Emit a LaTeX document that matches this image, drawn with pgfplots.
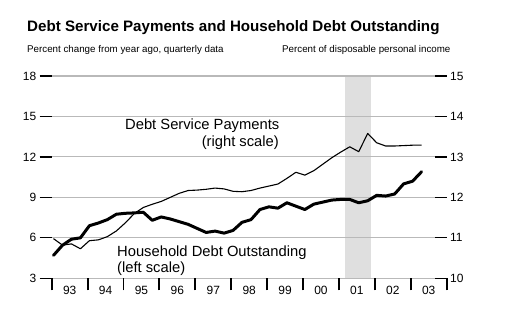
\documentclass[border=0pt]{standalone}
\usepackage{pgfplots}
\pgfplotsset{compat=1.18}
\usepackage{pgfplotstable}
\usepackage{fontspec}
\setmainfont{Liberation Sans}
\pgfplotsset{set layers}

\pgfplotstableread{
x y
1993.05 4.70
1993.30 5.45
1993.55 5.90
1993.80 6.00
1994.05 6.90
1994.30 7.10
1994.55 7.35
1994.80 7.75
1995.05 7.82
1995.30 7.85
1995.55 7.90
1995.80 7.30
1996.05 7.55
1996.30 7.40
1996.55 7.20
1996.80 7.00
1997.05 6.70
1997.30 6.40
1997.55 6.50
1997.80 6.35
1998.05 6.55
1998.30 7.15
1998.55 7.35
1998.80 8.10
1999.05 8.30
1999.30 8.20
1999.55 8.60
1999.80 8.35
2000.05 8.10
2000.30 8.50
2000.55 8.65
2000.80 8.80
2001.05 8.85
2001.30 8.85
2001.55 8.60
2001.80 8.75
2002.05 9.15
2002.30 9.10
2002.55 9.25
2002.80 10.00
2003.05 10.20
2003.30 10.90
}\household

\pgfplotstableread{
x y
1993.05 10.98
1993.30 10.82
1993.55 10.85
1993.80 10.73
1994.05 10.93
1994.30 10.95
1994.55 11.03
1994.80 11.17
1995.05 11.37
1995.30 11.60
1995.55 11.75
1995.80 11.83
1996.05 11.90
1996.30 12.00
1996.55 12.10
1996.80 12.17
1997.05 12.18
1997.30 12.20
1997.55 12.23
1997.80 12.21
1998.05 12.15
1998.30 12.14
1998.55 12.17
1998.80 12.23
1999.05 12.28
1999.30 12.33
1999.55 12.47
1999.80 12.62
2000.05 12.55
2000.30 12.66
2000.55 12.82
2000.80 12.98
2001.05 13.12
2001.30 13.25
2001.55 13.13
2001.80 13.58
2002.05 13.35
2002.30 13.27
2002.55 13.27
2002.80 13.28
2003.05 13.29
2003.30 13.29
}\debtservice

\begin{document}
\begin{tikzpicture}

\node[anchor=base west, inner sep=0, font=\bfseries\fontsize{15.2}{18}\selectfont] at (27bp,-31.5bp) {Debt Service Payments and Household Debt Outstanding};
\node[anchor=base west, inner sep=0, font=\fontsize{9.8}{12}\selectfont] at (27bp,-52.3bp) {Percent change from year ago, quarterly data};
\node[anchor=base west, inner sep=0, font=\fontsize{9.8}{12}\selectfont] at (282bp,-52.3bp) {Percent of disposable personal income};

\begin{axis}[
  at={(51.7bp,-278.3bp)}, anchor=south west,
  scale only axis, width=395bp, height=202.3bp,
  xmin=1993, xmax=2004, ymin=3, ymax=18,
  axis line style={draw=none},
  ytick={3,6,...,18}, ytick pos=left,
  ymajorgrids, grid style={draw=gray!55, line width=1.1pt},
  xtick={1993,...,2004},
  xticklabels={93,94,95,96,97,98,99,00,01,02,03},
  x tick label as interval, xtick pos=bottom,
  tick align=outside, major tick length=12bp,
  tick style={black, line width=1.3pt},
  xtick style={black, line width=1.9pt},
  ticklabel style={font=\fontsize{12}{14}\selectfont},
  xticklabel style={yshift=7.6bp},
  /pgf/number format/assume math mode=true,
  clip=false,
]
\begin{pgfonlayer}{axis background}
\fill[gray!25] (axis cs:2001.17,3) rectangle (axis cs:2001.88,18);
\end{pgfonlayer}
\addplot[black, line width=3pt, line join=round, line cap=round] table[x=x,y=y] {\household};
\end{axis}

\begin{axis}[
  at={(51.7bp,-278.3bp)}, anchor=south west,
  scale only axis, width=395bp, height=202.3bp,
  xmin=1993, xmax=2004, ymin=10, ymax=15,
  axis line style={draw=none},
  ytick={10,...,15}, ytick pos=right,
  xtick=\empty,
  tick align=inside, major tick length=12bp,
  tick style={black, line width=1.3pt},
  ticklabel style={font=\fontsize{12}{14}\selectfont},
  /pgf/number format/assume math mode=true,
  clip=false,
]
\addplot[black, line width=1.1pt, line join=round] table[x=x,y=y] {\debtservice};
\end{axis}

\node[anchor=base west, inner sep=0, font=\fontsize{14.8}{17}\selectfont] at (125bp,-129.5bp) {Debt Service Payments};
\node[anchor=base east, inner sep=0, font=\fontsize{14.8}{17}\selectfont] at (279bp,-146bp) {(right scale)};
\node[anchor=base west, inner sep=0, font=\fontsize{14.8}{17}\selectfont] at (117bp,-256.7bp) {Household Debt Outstanding};
\node[anchor=base west, inner sep=0, font=\fontsize{14.8}{17}\selectfont] at (117bp,-272bp) {(left scale)};
\path (0,0) rectangle (505bp,-327bp);
\end{tikzpicture}
\end{document}
